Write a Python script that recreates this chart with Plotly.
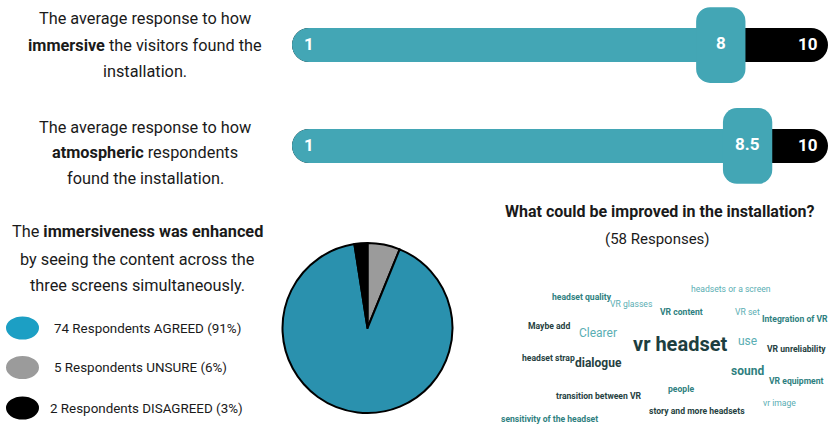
import plotly.graph_objects as go

W, H = 829, 428

# ---------------- data ----------------
rating_items = ["immersive", "atmospheric"]
rating_values = [8, 8.5]
rating_labels = ["8", "8.5"]
scale_min_label = "1"
scale_max = 10
scale_max_label = "10"

pie_labels = ["UNSURE", "AGREED", "DISAGREED"]
pie_counts = [5, 74, 2]

legend_order = ["AGREED", "UNSURE", "DISAGREED"]
legend_counts = [74, 5, 2]
legend_pcts = ["91%", "6%", "3%"]

cloud_words = ["headset quality", "VR glasses", "headsets or a screen", "VR content", "VR set",
               "Integration of VR", "Maybe add", "Clearer", "vr headset", "use",
               "VR unreliability", "headset strap", "dialogue", "sound", "VR equipment",
               "people", "transition between VR", "vr image", "story and more headsets",
               "sensitivity of the headset"]
cloud_weights = [1, 1, 1, 1, 1, 1, 1, 2, 5, 2, 1, 1, 2, 2, 1, 1, 1, 1, 1, 1]
n_responses = 58

# ---------------- styling / layout ----------------
TEAL_BAR = "#43a6b5"
TEAL_PIE = "#2a91ae"
TEAL_LEG = "#1c9fc4"
GRAY = "#9b9b9b"
DARK = "#1a1a1a"
FONT = "Roboto"

C_DARK = "#263f41"
C_MID = "#2f7f80"
C_LIGHT = "#5aaeb3"
cloud_colors = [C_MID, C_LIGHT, C_LIGHT, C_MID, C_LIGHT, C_MID, C_DARK, C_LIGHT, "#1d3e40", C_LIGHT,
                C_DARK, C_DARK, C_DARK, C_MID, C_MID, C_MID, C_DARK, C_LIGHT, C_DARK, C_MID]
cloud_bold = [True, False, False, True, False, True, True, False, True, False,
              True, True, True, True, True, True, True, False, True, True]
cloud_pos = [(582, 297), (631, 304), (731, 289), (681, 312), (747, 312),
             (795, 319), (549, 326), (598, 333), (680, 344), (747, 341),
             (796, 349), (548, 358), (598, 363), (747, 371), (796, 381),
             (681, 389), (599, 396), (779, 403), (697, 411), (549, 419)]
size_map = {1: 8.6, 2: 12, 5: 20}


def px(x):
    return x / W


def py(y):
    return 1 - y / H


fig = go.Figure()

bar_w = 0.337
knob_w = 0.75
knob_half = 0.46
# black track (pill)
fig.add_trace(go.Bar(y=rating_items, x=[scale_max] * len(rating_items), base=[0] * len(rating_items),
                     orientation="h", width=bar_w, marker=dict(color="black", cornerradius="50%", line_width=0),
                     hoverinfo="skip", showlegend=False))
# teal fill
fig.add_trace(go.Bar(y=rating_items, x=rating_values, base=[0] * len(rating_items),
                     orientation="h", width=bar_w, marker=dict(color=TEAL_BAR, cornerradius="50%", line_width=0),
                     hoverinfo="skip", showlegend=False))
# knob
fig.add_trace(go.Bar(y=rating_items, x=[2 * knob_half] * len(rating_values),
                     base=[v - knob_half for v in rating_values],
                     orientation="h", width=knob_w,
                     marker=dict(color=TEAL_BAR, cornerradius=14, line_width=0),
                     hoverinfo="skip", showlegend=False))

annotations = []
lab_font = dict(family=FONT, size=17, color="white", weight="bold")
for item, v, lab in zip(rating_items, rating_values, rating_labels):
    annotations.append(dict(x=v, y=item, xref="x", yref="y", text=lab, showarrow=False,
                            xanchor="center", yanchor="middle", font=lab_font, yshift=2))
    annotations.append(dict(x=0, y=item, xref="x", yref="y", text=scale_min_label, showarrow=False,
                            xanchor="left", yanchor="middle", xshift=10, font=lab_font, yshift=1))
    annotations.append(dict(x=scale_max, y=item, xref="x", yref="y", text=scale_max_label,
                            showarrow=False, xanchor="right", yanchor="middle", xshift=-8,
                            font=lab_font, yshift=1))

# pie
fig.add_trace(go.Pie(labels=pie_labels, values=pie_counts, sort=False, direction="clockwise", rotation=0,
                     marker=dict(colors=[GRAY, TEAL_PIE, "black"], line=dict(color="black", width=2)),
                     textinfo="none", hoverinfo="label+percent", showlegend=False,
                     domain=dict(x=[px(282), px(453)], y=[py(413), py(243)])))

# left texts
left_blocks = [
    (145, [19, 45, 71], ["The average response to how", f"<b>{rating_items[0]}</b> the visitors found the", "installation."]),
    (145, [127, 153, 178], ["The average response to how", f"<b>{rating_items[1]}</b> respondents", "found the installation."]),
    (137, [232, 259, 285], ["The <b>immersiveness was enhanced</b>", "by seeing the content across the", "three screens simultaneously."]),
]
for cx, ys, lines in left_blocks:
    for yy, t in zip(ys, lines):
        annotations.append(dict(x=px(cx), y=py(yy), xref="paper", yref="paper", text=t, showarrow=False,
                                xanchor="center", yanchor="middle",
                                font=dict(family=FONT, size=16.3, color=DARK)))

# legend swatches + text
shapes = []
leg_colors = [TEAL_LEG, GRAY, "black"]
leg_y = [328, 367.5, 408]
leg_x = [52, 52, 48]
for lab, n, pct, col, yy, xx in zip(legend_order, legend_counts, legend_pcts, leg_colors, leg_y, leg_x):
    shapes.append(dict(type="circle", xref="paper", yref="paper", x0=px(6), x1=px(39),
                       y0=py(yy + 11.5), y1=py(yy - 11.5), fillcolor=col, line_width=0))
    annotations.append(dict(x=px(xx), y=py(yy), xref="paper", yref="paper", xanchor="left", yanchor="middle",
                            text=f"{n} Respondents {lab} ({pct})", showarrow=False,
                            font=dict(family=FONT, size=13.4, color=DARK)))

# word cloud title
annotations.append(dict(x=px(660), y=py(211), xref="paper", yref="paper", xanchor="center", yanchor="middle",
                        text="<b>What could be improved in the installation?</b>", showarrow=False,
                        font=dict(family=FONT, size=16, color=DARK)))
annotations.append(dict(x=px(657), y=py(239), xref="paper", yref="paper", xanchor="center", yanchor="middle",
                        text=f"({n_responses} Responses)", showarrow=False,
                        font=dict(family=FONT, size=15, color=DARK)))

# word cloud
for w, wt, col, b, (cx, cy) in zip(cloud_words, cloud_weights, cloud_colors, cloud_bold, cloud_pos):
    annotations.append(dict(x=px(cx), y=py(cy), xref="paper", yref="paper", text=w,
                            xanchor="center", yanchor="middle", showarrow=False,
                            font=dict(family=FONT, size=size_map[wt], color=col,
                                      weight="bold" if b else "normal")))

fig.update_layout(
    width=W, height=H, margin=dict(l=0, r=0, t=0, b=0),
    paper_bgcolor="white", plot_bgcolor="rgba(0,0,0,0)",
    barmode="overlay",
    font=dict(family=FONT),
    xaxis=dict(domain=[px(292), px(828)], range=[0, scale_max], visible=False, fixedrange=True),
    yaxis=dict(domain=[py(190), 1], range=[1.436, -0.446], visible=False, type="category", fixedrange=True),
    annotations=annotations, shapes=shapes,
)

fig.write_html("out.html", config={"displayModeBar": False},
               post_script="document.body.style.margin='0';")
